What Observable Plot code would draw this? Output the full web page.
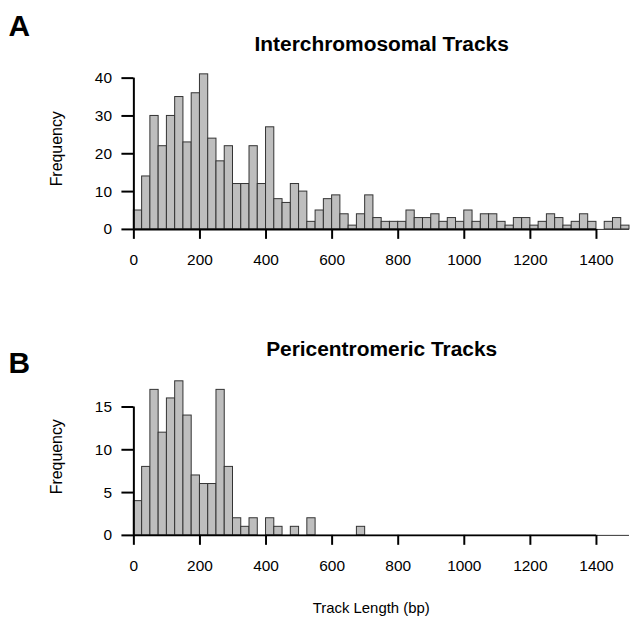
<!DOCTYPE html>
<html>
<head>
<meta charset="utf-8">
<script src="https://cdn.jsdelivr.net/npm/d3@7"></script>
<script src="https://cdn.jsdelivr.net/npm/@observablehq/plot@0.6"></script>
<style>
  html, body { margin: 0; padding: 0; background: #fff; overflow: hidden; }
  #fig { position: relative; width: 630px; height: 622px; overflow: hidden; }
</style>
</head>
<body>
<div id="fig"></div>
<script>
// Histogram bin width (bp) and counts per bin, starting at 0
const binWidth = 25;
const countsA = [5, 14, 30, 22, 30, 35, 23, 36, 41, 24, 18, 22, 12, 12, 22, 12, 27, 8, 7, 12,
                 10, 2, 5, 8, 9, 4, 1, 4, 9, 3, 2, 2, 2, 5, 3, 3, 4, 2, 3, 2,
                 5, 2, 4, 4, 2, 1, 3, 3, 1, 2, 4, 3, 1, 2, 4, 2, 0, 2, 3, 1];
const countsB = [4, 8, 17, 12, 16, 18, 14, 7, 6, 6, 17, 8, 2, 1, 2, 0, 2, 1, 0, 1,
                 0, 2, 0, 0, 0, 0, 0, 1, 0, 0, 0, 0, 0, 0, 0, 0, 0, 0, 0, 0,
                 0, 0, 0, 0, 0, 0, 0, 0, 0, 0, 0, 0, 0, 0, 0, 0, 0, 0, 0, 0];
const xTicks = [0, 200, 400, 600, 800, 1000, 1200, 1400];
const yTicksA = [0, 10, 20, 30, 40];
const yTicksB = [0, 5, 10, 15];
const titleA = "Interchromosomal Tracks";
const titleB = "Pericentromeric Tracks";
const yLabel = "Frequency";
const xLabel = "Track Length (bp)";

const bins = counts => counts.map((c, i) => ({x0: i * binWidth, x1: (i + 1) * binWidth, count: c}));
const xMax = countsA.length * binWidth;

const FONT = "'Liberation Sans', Arial, Helvetica, sans-serif";

function panel({counts, yTicks, letter, title, height, marginTop, marginBottom, titleDy, letterDy, ylabDy, xlab}) {
  const marks = [
    Plot.ruleY([0], {x1: () => 0, x2: () => xMax, stroke: "#333", strokeWidth: 1}),
    Plot.rectY(bins(counts), {x1: "x0", x2: "x1", y: "count", fill: "#bebebe", stroke: "#333", strokeWidth: 1}),
    Plot.ruleY([0], {x1: () => xTicks[0], x2: () => xTicks[xTicks.length - 1], stroke: "black", strokeWidth: 2}),
    Plot.ruleX([0], {y1: () => yTicks[0], y2: () => yTicks[yTicks.length - 1], stroke: "black", strokeWidth: 2}),
    Plot.axisX({ticks: xTicks, tickSize: 10, tickPadding: 15, strokeWidth: 2, fontSize: 15.5, label: null, tickFormat: d => String(d)}),
    Plot.axisY({ticks: yTicks, tickSize: 12, tickPadding: 10, strokeWidth: 2, fontSize: 15.5, label: null, tickFormat: d => String(d)}),
    Plot.text([title], {frameAnchor: "top", lineAnchor: "middle", textAnchor: "middle", dy: titleDy, fontSize: 21, fontWeight: "bold", fill: "black"}),
    Plot.text([letter], {frameAnchor: "top-left", lineAnchor: "middle", textAnchor: "start", dx: -126, dy: letterDy, fontSize: 30, fontWeight: "bold", fill: "black"}),
    Plot.text([yLabel], {frameAnchor: "left", lineAnchor: "middle", textAnchor: "middle", dx: -77, dy: ylabDy, rotate: -90, fontSize: 16, fill: "black"})
  ];
  if (xlab) {
    marks.push(Plot.text([xLabel], {frameAnchor: "bottom", lineAnchor: "middle", textAnchor: "middle", dx: -10.5, dy: 73.2, fontSize: 15, fill: "black"}));
  }
  return Plot.plot({
    width: 633,
    height,
    marginLeft: 134,
    marginRight: 1,
    marginTop,
    marginBottom,
    x: {domain: [0, xMax]},
    y: {domain: [yTicks[0], yTicks[yTicks.length - 1]]},
    style: {fontFamily: FONT, fontSize: "15px", color: "black", background: "transparent", overflow: "visible"},
    marks
  });
}

const fig = document.getElementById("fig");
const a = panel({counts: countsA, yTicks: yTicksA, letter: "A", title: titleA,
  height: 300, marginTop: 78, marginBottom: 70, titleDy: -33.7, letterDy: -51.6, ylabDy: -5, xlab: false});
a.style.position = "absolute";
a.style.left = "0px";
a.style.top = "0px";
const b = panel({counts: countsB, yTicks: yTicksB, letter: "B", title: titleB,
  height: 322, marginTop: 107, marginBottom: 86, titleDy: -57.7, letterDy: -43.9, ylabDy: -14.5, xlab: true});
b.style.position = "absolute";
b.style.left = "0px";
b.style.top = "300px";
fig.appendChild(a);
fig.appendChild(b);
</script>
</body>
</html>
